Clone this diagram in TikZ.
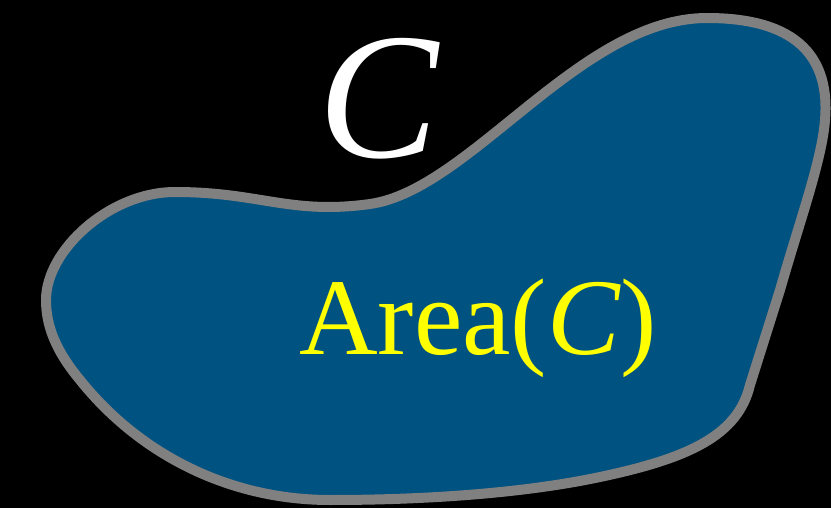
\documentclass[tikz,border=0pt]{standalone}
\usepackage{fontspec}
\setmainfont{Liberation Serif}
\definecolor{blobblue}{RGB}{0,82,128}
\definecolor{rimgray}{RGB}{128,128,128}
\definecolor{areayellow}{RGB}{255,255,0}
\begin{document}
\begin{tikzpicture}[x=1pt,y=-1pt,
  blob/.style={draw=rimgray,fill=blobblue,line width=10pt,line join=round},
  bigc/.style={text=white,font=\fontsize{180}{180}\selectfont\itshape,inner sep=0pt,anchor=base west},
  arealabel/.style={text=areayellow,font=\fontsize{109}{109}\selectfont,inner sep=0pt,anchor=base west}]
\useasboundingbox[fill=black] (0,0) rectangle (831,508);
\draw[blob] (46,300)
  .. controls (46,250) and (110,192) .. (175,192)
  .. controls (260,192) and (290,215) .. (370,204)
  .. controls (470,190) and (580,18) .. (707,18)
  .. controls (800,18) and (830,60) .. (825,120)
  .. controls (822,160) and (800,220) .. (780,290)
  -- (750,385)
  .. controls (738,435) and (690,458) .. (600,477)
  .. controls (520,494) and (420,500) .. (330,500)
  .. controls (230,500) and (140,455) .. (80,380)
  .. controls (55,350) and (46,325) .. (46,300) -- cycle;
\node[bigc] (clabel) at (318,158) {C};
\node[arealabel] (area) at (299,354) {Area(\textit{C})};
\end{tikzpicture}
\end{document}
